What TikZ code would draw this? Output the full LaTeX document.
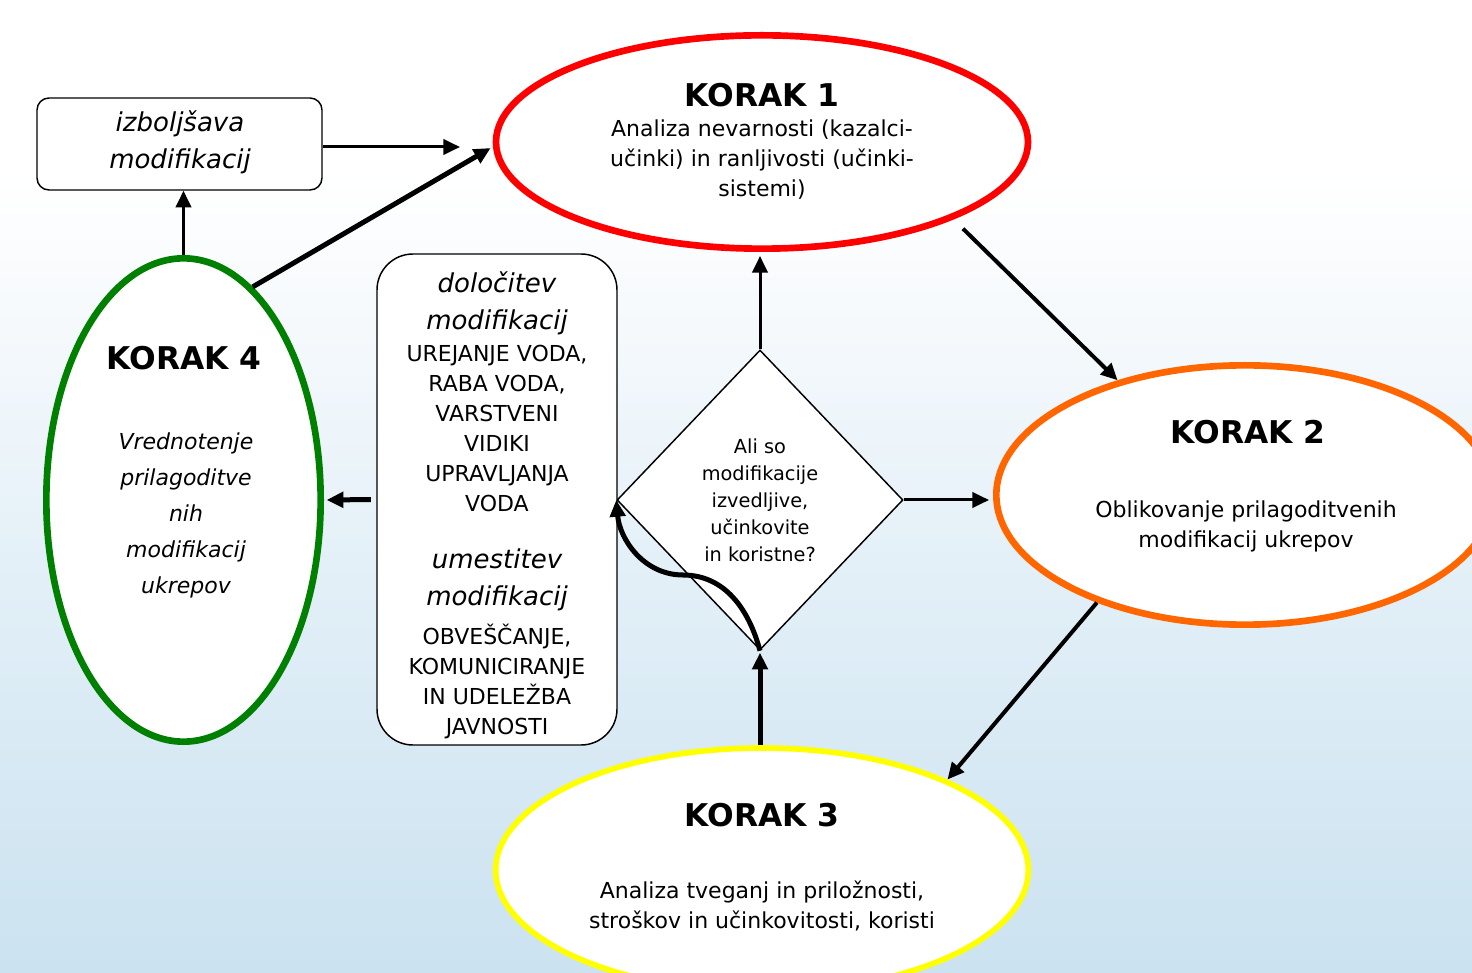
\documentclass[tikz,border=0pt]{standalone}
\usepackage{fontspec}
\setmainfont{DejaVu Sans}
\usetikzlibrary{shapes.geometric,arrows.meta}
\definecolor{bgblue}{RGB}{203,226,240}
\definecolor{bgmid}{RGB}{226,239,247}
\definecolor{bglight}{RGB}{245,249,252}
\definecolor{kred}{RGB}{255,0,0}
\definecolor{korange}{RGB}{255,102,0}
\definecolor{kyellow}{RGB}{255,255,0}
\definecolor{kgreen}{RGB}{0,128,0}
\pgfdeclareverticalshading{bgshade}{100bp}{color(0bp)=(bgblue); color(25bp)=(bgblue); color(45bp)=(bgmid); color(58bp)=(bglight); color(66bp)=(white); color(100bp)=(white)}
\tikzset{
  ell/.style={ellipse, draw, fill=white, inner sep=0pt},
  rbox/.style={rectangle, draw, fill=white, line width=1.1pt, inner sep=0pt},
  txt/.style={align=center, inner sep=0pt},
  title/.style={txt, font=\fontsize{23.5}{28}\selectfont\bfseries},
  body/.style={txt, font=\fontsize{16.5}{22.5}\selectfont},
  itbox/.style={txt, font=\fontsize{19.5}{27.5}\selectfont\itshape},
  arr/.style={-{Triangle[length=12.5pt,width=11.5pt]}},
  thinarr/.style={arr, line width=2.25pt},
  medarr/.style={arr, line width=3pt},
  thickarr/.style={arr, line width=3.75pt}
}
\begin{document}
\begin{tikzpicture}[x=0.75pt,y=-0.75pt]
\useasboundingbox (0,0) rectangle (1472,973);
\clip (0,0) rectangle (1472,973);
\shade[shading=bgshade] (0,0) rectangle (1472,973);

% ellipses
\node[ell, draw=kred, line width=5pt, minimum width=399pt, minimum height=160pt] (k1) at (762,142) {};
\node[ell, draw=korange, line width=5pt, minimum width=373pt, minimum height=194.5pt] (k2) at (1245,495) {};
\node[ell, draw=kyellow, line width=4.25pt, minimum width=399.5pt, minimum height=183pt] (k3) at (762,870) {};
\node[ell, draw=kgreen, line width=5pt, minimum width=205.75pt, minimum height=362.5pt] (k4) at (183.5,500) {};

% ellipse texts
\node[title] (k1t) at (762,95) {KORAK 1};
\node[body] (k1b) at (762,160) {Analiza nevarnosti (kazalci-\\učinki) in ranljivosti (učinki-\\sistemi)};
\node[title] (k2t) at (1248,432) {KORAK 2};
\node[body] (k2b) at (1246,526) {Oblikovanje prilagoditvenih\\modifikacij ukrepov};
\node[title] (k3t) at (762,815) {KORAK 3};
\node[body] (k3b) at (762,906) {Analiza tveganj in priložnosti,\\stroškov in učinkovitosti, koristi};
\node[title] (k4t) at (184,358) {KORAK 4};
\node[txt, font=\fontsize{16.5}{27}\selectfont\itshape] (k4b) at (186,515) {Vrednotenje\\prilagoditve\\nih\\modifikacij\\ukrepov};

% boxes
\node[rbox, rounded corners=9pt, minimum width=213.75pt, minimum height=69pt] (box1) at (179.5,144) {};
\node[itbox] (box1t) at (180,142) {izboljšava\\modifikacij};
\node[rbox, rounded corners=27pt, minimum width=180pt, minimum height=368.25pt] (box2) at (497,499.5) {};
\node[itbox] (b2a) at (497,303.5) {določitev\\modifikacij};
\node[body] (b2b) at (497,428) {UREJANJE VODA,\\RABA VODA,\\VARSTVENI\\VIDIKI\\UPRAVLJANJA\\VODA};
\node[itbox] (b2c) at (497,580) {umestitev\\modifikacij};
\node[body] (b2d) at (497,681) {OBVEŠČANJE,\\KOMUNICIRANJE\\IN UDELEŽBA\\JAVNOSTI};

% diamond
\node[diamond, draw, fill=white, line width=1.1pt, inner sep=0pt, minimum width=214.5pt, minimum height=225pt, align=center, font=\fontsize{14.5}{20.25}\selectfont] (dia) at (760,500) {Ali so\\modifikacije\\izvedljive,\\učinkovite\\in koristne?};

% connectors
\coordinate (a1) at (460,147);
\draw[thinarr] (box1.east |- a1) -- (a1);
\draw[thinarr] (k4.north) -- (k4.north |- box1.south);
\draw[thickarr, shorten >=2pt] (k4.72) -- (k1.181.5);
\draw[thinarr, shorten >=3pt] (dia.north) -- (dia.north |- k1.south);
\draw[medarr, shorten <=10pt] (k1.-22) -- (k2.138);
\draw[thinarr, shorten >=3pt] (dia.east) -- (dia.east -| k2.west);
\draw[medarr] (k2.216) -- (k3.26);
\draw[thickarr, shorten >=1.5pt] (dia.south |- k3.north) -- (dia.south);
\coordinate (cm) at (683,575);
\draw[thickarr] (dia.south) to[out=105,in=0] (cm) to[out=180,in=-85] (dia.west);
\draw[thickarr, shorten <=4pt, shorten >=2pt] (box2.west) -- (k4.east);
\end{tikzpicture}
\end{document}
